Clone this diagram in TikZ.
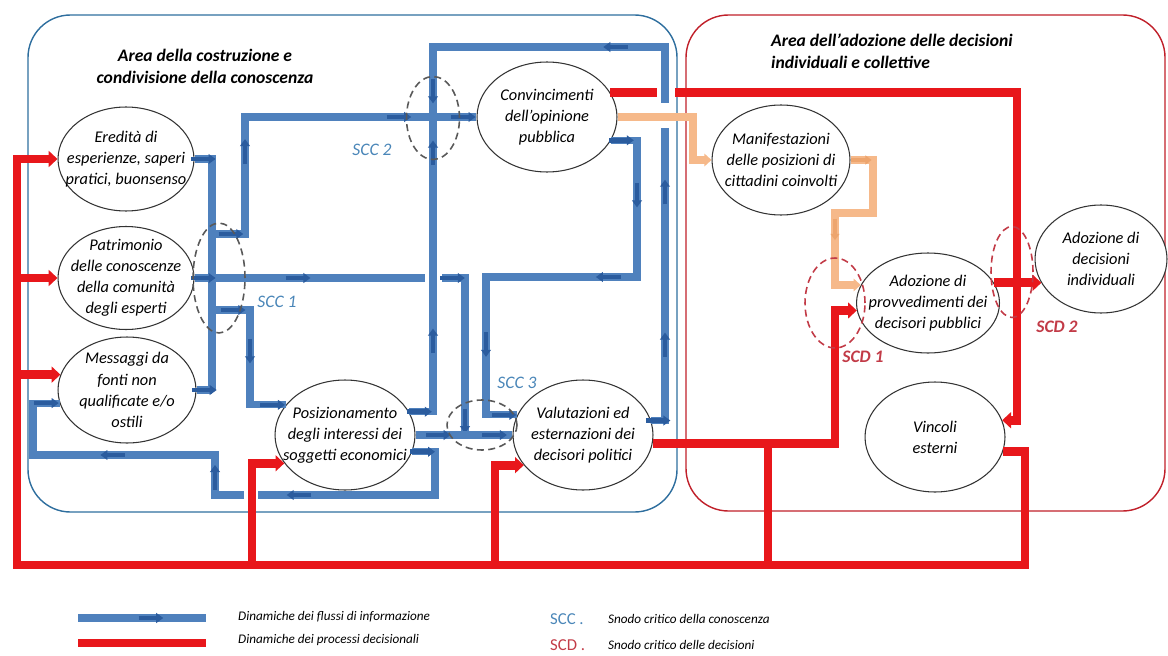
\documentclass[tikz,border=0pt]{standalone}
\usepackage{fontspec}
\setmainfont{Carlito}
\usepackage{xcolor}
\usepackage{tikz}
\usetikzlibrary{arrows.meta, shapes.geometric, decorations.markings}

\definecolor{infoblue}{HTML}{4F81BD}
\definecolor{infodark}{HTML}{2B5C9E}
\definecolor{decred}{HTML}{E8171B}
\definecolor{opinorange}{HTML}{F6B98A}
\definecolor{opindark}{HTML}{EDA56E}
\definecolor{areablue}{HTML}{2E6E9E}
\definecolor{areared}{HTML}{C0202A}
\definecolor{sccblue}{HTML}{4A86B8}
\definecolor{scdred}{HTML}{C23B47}

\begin{document}
\begin{tikzpicture}[
        x=0.02cm, y=-0.02cm,
        idea/.style={
            draw=black!80,
            ellipse,
            fill=white,
            inner sep=0pt,
            minimum width=2.8cm,
            minimum height=2.2cm,
            line width=0.6pt
        },
        ideatxt/.style={align=center, inner sep=0pt, font=\itshape\fontsize{9.3}{12}\selectfont},
        area/.style={line width=0.8pt, rounded corners=0.85cm},
        title/.style={font=\bfseries\itshape\fontsize{10}{12.5}\selectfont},
        snodo/.style={draw, ellipse, line width=0.9pt, inner sep=0pt, dash pattern=on 4pt off 2.5pt},
        info/.style={draw=infoblue, line width=4pt},
        infotip/.style={draw=infodark, line width=2.6pt, -{Triangle[length=4pt, width=5.5pt]}},
        imark/.style={postaction={decorate, decoration={markings,
            mark=at position #1 with {\draw[infotip] (-7pt,0) -- (7pt,0);}}}},
        omark/.style={postaction={decorate, decoration={markings,
            mark=at position #1 with {\draw[draw=opindark, line width=2.4pt, -{Triangle[length=3.5pt, width=5pt]}] (-6pt,0) -- (6pt,0);}}}},
        decis/.style={draw=decred, line width=5pt},
        decisto/.style={decis, -{Triangle[length=5pt, width=9pt]}},
        opin/.style={draw=opinorange, line width=4.5pt, -{Triangle[length=4pt, width=7pt]}},
        nodelbl/.style={font=\itshape\fontsize{10}{12}\selectfont},
        legtxt/.style={font=\itshape\fontsize{7.5}{9}\selectfont, anchor=west},
        legkey/.style={font=\fontsize{9.5}{11}\selectfont, anchor=west}
    ]
        \useasboundingbox (0,0) rectangle (1168,655);

        \draw[area, areablue] (28,15) rectangle (677,512);
        \draw[area, areared] (686,15) rectangle (1165,511);

        \node[title, align=center] (tknow) at (205,66) {Area della costruzione e\\condivisione della conoscenza};
        \node[title, align=left, anchor=west] (tdec) at (765,51) {Area dell’adozione delle decisioni\\individuali e collettive};

        \node[idea, minimum width=2.72cm, minimum height=2.08cm] (ered) at (126,159) {};
        \node[idea, minimum width=2.72cm, minimum height=2.06cm] (patr) at (126,278) {};
        \node[idea, minimum width=2.76cm, minimum height=2.12cm] (mess) at (127,390) {};
        \node[idea] (posiz) at (345,435) {};
        \node[idea] (conv) at (547,117) {};
        \node[idea] (valu) at (583,435) {};
        \node[idea, minimum width=2.76cm] (manif) at (781,160) {};
        \node[idea, minimum width=2.86cm, minimum height=2cm] (prov) at (928,303) {};
        \node[idea, minimum width=2.64cm, minimum height=2.16cm] (adoz) at (1101,259) {};
        \node[idea] (vinc) at (935,437) {};

        \node[ideatxt] (eredtxt) at (ered) {Eredità di\\esperienze, saperi\\pratici, buonsenso};
        \node[ideatxt] (patrtxt) at (patr) {Patrimonio\\delle conoscenze\\della comunità\\degli esperti};
        \node[ideatxt] (messtxt) at (mess) {Messaggi da\\fonti non\\qualificate e/o\\ostili};
        \node[ideatxt] (posiztxt) at (posiz) {Posizionamento\\degli interessi dei\\soggetti economici};
        \node[ideatxt] (convtxt) at (conv) {Convincimenti\\dell’opinione\\pubblica};
        \node[ideatxt] (valutxt) at (valu) {Valutazioni ed\\esternazioni dei\\decisori politici};
        \node[ideatxt] (maniftxt) at (manif) {Manifestazioni\\delle posizioni di\\cittadini coinvolti};
        \node[ideatxt] (provtxt) at (prov) {Adozione di\\provvedimenti dei\\decisori pubblici};
        \node[ideatxt] (adoztxt) at (adoz) {Adozione di\\decisioni\\individuali};
        \node[ideatxt] (vinctxt) at (vinc) {Vincoli\\esterni};

        \coordinate (c1) at (212,390);
        \coordinate (c2) at (212,234);
        \coordinate (c3) at (245,117);
        \coordinate (c5) at (425,278);
        \coordinate (c6) at (442,278);
        \coordinate (c7) at (465,435);
        \coordinate (c8) at (212,310);
        \coordinate (c9) at (250,350);
        \coordinate (c10) at (433,117);
        \coordinate (c11) at (665,47);
        \coordinate (c12) at (665,128);
        \coordinate (c13) at (665,103);
        \coordinate (c14) at (637,277);
        \coordinate (c15) at (486,350);
        \coordinate (c16) at (435,495);
        \coordinate (c17) at (258,495);
        \coordinate (c18) at (244,495);
        \coordinate (c19) at (215,455);
        \coordinate (c20) at (33,430);

        \coordinate (d1) at (1025,565);
        \coordinate (d2) at (17,300);
        \coordinate (d4) at (252,565);
        \coordinate (d5) at (495,565);
        \coordinate (d6) at (835,380);
        \coordinate (d7) at (768,565);
        \coordinate (d8) at (657,93);
        \coordinate (d9) at (675,93);
        \coordinate (d10) at (1017,300);

        \coordinate (e1) at (693,140);
        \coordinate (e2) at (873,213);
        \coordinate (e3) at (835,250);

        \draw[info, imark=5pt] (ered.east) -| (c1);
        \draw[info, imark=4.5pt] (mess.east) -- (c1);
        \draw[info, imark=5pt, imark=59pt] (patr.east) -- (c5);
        \draw[info, imark=10.8pt, imark=65.8pt, imark=173pt, imark=-7.5pt] (c2) -| (c3) -- (conv.west);
        \draw[info, imark=6pt, imark=-8pt] (c6) -| (c7);
        \draw[info, imark=12pt, imark=45pt, imark=-7.5pt] (c8) -| (c9) |- (posiz.153);
        \draw[info, imark=6pt, imark=54pt, imark=161pt] (posiz.20) -| (c10);
        \draw[info, imark=4pt, imark=51pt, imark=138pt] (valu.12) -| (c12);
        \draw[info, imark=60pt, imark=189pt] (c13) -- (c11) -| (c10);
        \draw[info, imark=6pt, imark=46pt, imark=109pt, imark=217pt, imark=-7.5pt]
            (conv.340) -| (c14) -| (c15) |- (valu.163);
        \draw[info, imark=13pt, imark=45pt] (posiz.east) -- (valu.west);
        \draw[info, imark=6pt, imark=115pt] (posiz.346) -| (c16) -- (c17);
        \draw[info, imark=26.6pt, imark=97.5pt, imark=-7.5pt] (c18) -| (c19) -| (c20) |- (mess.191);

        \draw[decisto] (vinc.348) -| (d1) -| (d2) |- (ered.west);
        \draw[decisto] (patr.west -| d2) -- (patr.west);
        \draw[decisto] (mess.167 -| d2) -- (mess.167);
        \draw[decisto] (d4) |- (posiz.205);
        \draw[decisto] (d5) |- (valu.207);
        \draw[decisto] (valu.353) -| (d6) |- (prov.186);
        \draw[decis] (d7) -- (d7 |- valu.353);
        \draw[decis] (conv.21) -- (conv.21 -| d8);
        \draw[decisto] (conv.21 -| d9) -| (d10) |- (vinc.14);
        \draw[decisto] (prov.17) -- (prov.17 -| adoz.202);

        \draw[opin] (conv.east) -| (e1) |- (manif.west);
        \draw[opin, omark=6pt, omark=74pt] (manif.east) -| (e2) -| (e3) |- (prov.165);

        \node[snodo, draw=black!65, minimum width=1.04cm, minimum height=2.2cm] (scc1) at (219,278) {};
        \node[snodo, draw=black!65, minimum width=1.06cm, minimum height=1.66cm] (scc2) at (433,118) {};
        \node[snodo, draw=black!65, minimum width=1.4cm, minimum height=1cm] (scc3) at (482,425) {};
        \node[snodo, draw=scdred, minimum width=1.2cm, minimum height=1.8cm] (scd1) at (835,303) {};
        \node[snodo, draw=scdred, minimum width=0.84cm, minimum height=1.82cm] (scd2) at (1012,272) {};

        \node[nodelbl, text=sccblue] (lscc1) at (277,302) {SCC 1};
        \node[nodelbl, text=sccblue] (lscc2) at (372,150) {SCC 2};
        \node[nodelbl, text=sccblue] (lscc3) at (517,383) {SCC 3};
        \node[nodelbl, font=\bfseries\itshape\fontsize{10}{12}\selectfont, text=scdred] (lscd1) at (863,357) {SCD 1};
        \node[nodelbl, font=\bfseries\itshape\fontsize{10}{12}\selectfont, text=scdred] (lscd2) at (1057,327) {SCD 2};

        \coordinate (lgia) at (78,618);
        \coordinate (lgib) at (206,618);
        \coordinate (lgda) at (78,643);
        \coordinate (lgdb) at (206,643);
        \draw[info, imark=0.57] (lgia) -- (lgib);
        \draw[decis] (lgda) -- (lgdb);
        \node[legtxt] (linfo) at (232,617) {Dinamiche dei flussi di informazione};
        \node[legtxt] (ldec) at (232,640) {Dinamiche dei processi decisionali};
        \node[legkey, text=sccblue] (kscc) at (544,619) {SCC .};
        \node[legtxt] (lscc) at (602,619) {Snodo critico della conoscenza};
        \node[legkey, text=scdred] (kscd) at (544,645) {SCD .};
        \node[legtxt] (lscd) at (602,645) {Snodo critico delle decisioni};
    \end{tikzpicture}
\end{document}
